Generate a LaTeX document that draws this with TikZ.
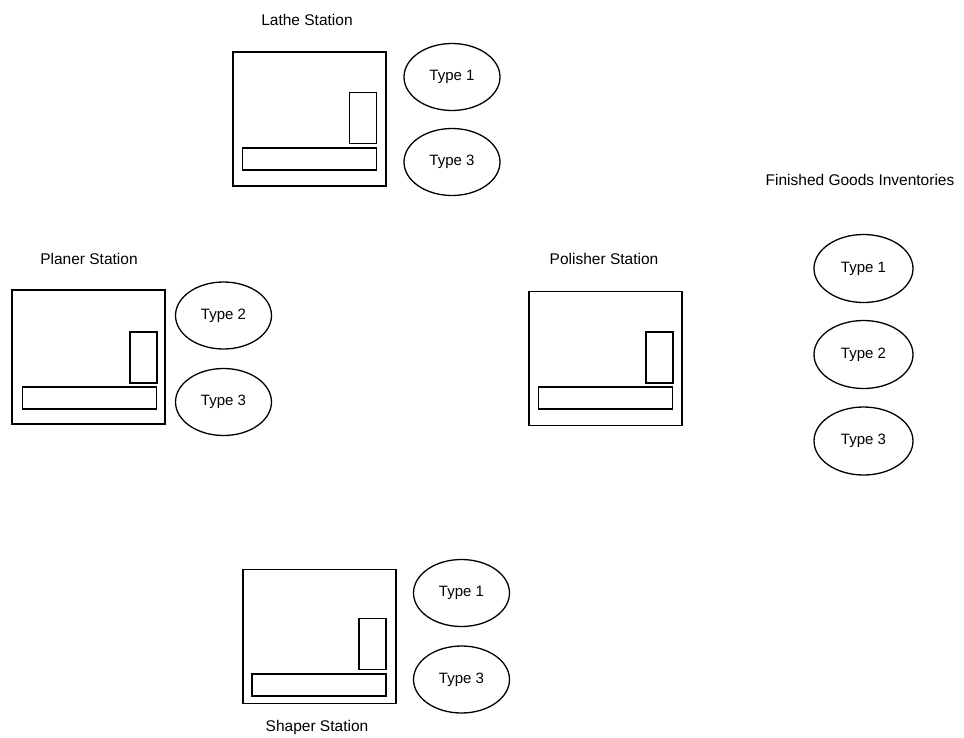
\documentclass[tikz,border=0pt]{standalone}
\usepackage{fontspec}
\setmainfont{Liberation Sans}
\usetikzlibrary{shapes.geometric}
\begin{document}
\begin{tikzpicture}[x=1pt,y=-1pt,
  stationbox/.style={draw, line width=1.6pt, rectangle, inner sep=0pt, minimum width=153pt, minimum height=134pt},
  slotbox/.style={draw, line width=1.6pt, rectangle, inner sep=0pt, minimum width=27pt, minimum height=51pt},
  barbox/.style={draw, line width=1.6pt, rectangle, inner sep=0pt, minimum width=134pt, minimum height=22pt},
  inv/.style={draw, line width=1.3pt, ellipse, inner sep=0pt, minimum width=96pt, minimum height=67pt, font=\fontsize{15}{17}\selectfont},
  fginv/.style={inv, minimum width=99pt, minimum height=68pt},
  lbl/.style={inner sep=0pt, font=\fontsize{15.5}{18}\selectfont}]
\useasboundingbox (0,0) rectangle (964,737);
% Lathe
\node[lbl] (lathelbl) at (307,20) {Lathe Station};
\node[stationbox] (lathe) at (309.5,119) {};
\node[slotbox] (latheslot) at (363,118) {};
\node[barbox] (lathebar) at (309.5,159) {};
\node[inv] (latheA) at (452,77) {Type 1};
\node[inv] (latheC) at (452,162) {Type 3};
% Planer
\node[lbl] (planerlbl) at (89,259) {Planer Station};
\node[stationbox] (planer) at (88.5,357) {};
\node[slotbox] (planerslot) at (143.5,357.5) {};
\node[barbox] (planerbar) at (89.5,398) {};
\node[inv] (planerB) at (223.5,315.5) {Type 2};
\node[inv] (planerC) at (223.5,402) {Type 3};
% Polisher
\node[lbl] (polisherlbl) at (604,259) {Polisher Station};
\node[stationbox] (polisher) at (605.5,358.5) {};
\node[slotbox] (polisherslot) at (659.5,357.5) {};
\node[barbox] (polisherbar) at (605.5,398) {};
% Finished goods
\node[lbl] (fglbl) at (860,180) {Finished Goods Inventories};
\node[fginv] (fgA) at (863.5,268.5) {Type 1};
\node[fginv] (fgB) at (863.5,354.5) {Type 2};
\node[fginv] (fgC) at (863.5,441) {Type 3};
% Shaper
\node[stationbox] (shaper) at (319.5,636.5) {};
\node[slotbox] (shaperslot) at (372.5,644) {};
\node[barbox] (shaperbar) at (319,685) {};
\node[lbl] (shaperlbl) at (317,727) {Shaper Station};
\node[inv] (shaperA) at (461.5,593) {Type 1};
\node[inv] (shaperC) at (461.5,679.5) {Type 3};
\end{tikzpicture}
\end{document}
